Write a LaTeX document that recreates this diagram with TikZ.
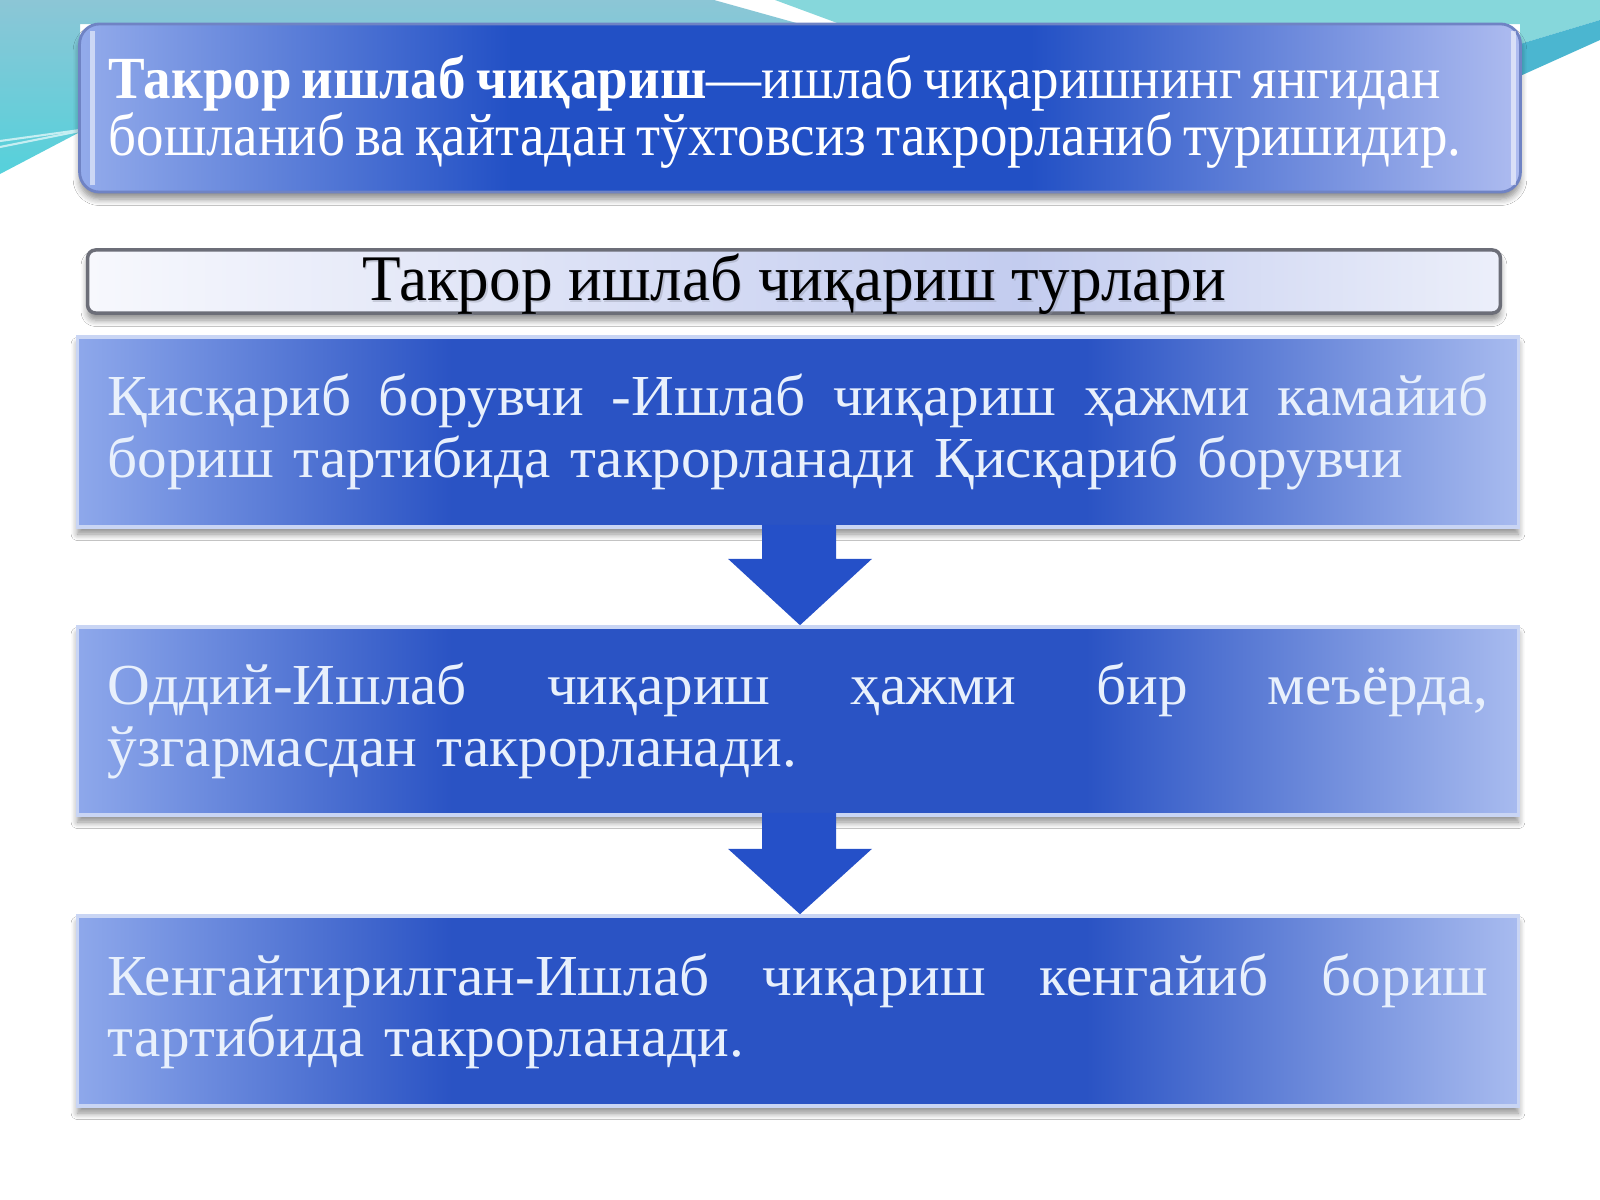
\documentclass[tikz,border=0pt]{standalone}
\usepackage{fontspec}
\setmainfont{Liberation Serif}
\newfontfamily\hdfont[FakeStretch=0.92]{Liberation Serif}
\newfontfamily\mdfont[FakeStretch=0.97]{Liberation Serif}
\newfontfamily\bxfont[FakeStretch=1.02]{Liberation Serif}
\usetikzlibrary{calc,shadows.blur}

\definecolor{bgA}{HTML}{8CC6D6}
\definecolor{bgB}{HTML}{55D1DB}
\definecolor{bgC}{HTML}{86D7DB}
\definecolor{bgD}{HTML}{4BB6D0}
\definecolor{bgLine}{HTML}{C6EEF2}
\definecolor{topL}{HTML}{93ABEB}
\definecolor{topD}{HTML}{2250C5}
\definecolor{topR}{HTML}{AEBCF0}
\definecolor{topEdge}{HTML}{6F83C4}
\definecolor{midL}{HTML}{F7F8FD}
\definecolor{midD}{HTML}{C3CCEF}
\definecolor{midR}{HTML}{ECEFFA}
\definecolor{midEdge}{HTML}{6C6E78}
\definecolor{bodyL}{HTML}{8EA8EB}
\definecolor{bodyD}{HTML}{2A53C4}
\definecolor{bodyR}{HTML}{A8BBEF}
\definecolor{bodyEdge}{HTML}{C9D5F4}
\definecolor{bodyText}{HTML}{E8F0FC}
\definecolor{arrowBlue}{HTML}{2550C8}
\definecolor{textShadow}{HTML}{8A8FA0}

\pgfdeclarehorizontalshading{topshade}{100bp}{color(0bp)=(topL); color(25bp)=(topL); color(40bp)=(topD); color(58bp)=(topD); color(75bp)=(topR); color(100bp)=(topR)}
\pgfdeclarehorizontalshading{midshade}{100bp}{color(0bp)=(midL); color(25bp)=(midL); color(58bp)=(midD); color(75bp)=(midR); color(100bp)=(midR)}
\pgfdeclarehorizontalshading{bodyshade}{100bp}{color(0bp)=(bodyL); color(25bp)=(bodyL); color(38bp)=(bodyD); color(60bp)=(bodyD); color(75bp)=(bodyR); color(100bp)=(bodyR)}

\newcommand{\fullline}[1]{\hbox to 13.8cm{#1}}
\newcommand{\tightline}[1]{\mbox{\spaceskip=0.17em\relax #1}}

\begin{document}
\begin{tikzpicture}[x=0.01cm,y=-0.01cm,
  softshadow/.style={blur shadow={shadow xshift=0pt, shadow yshift=-0.07cm, shadow blur steps=6, shadow opacity=45}},
  topbox/.style={rounded corners=0.2cm, shading=topshade, draw=topEdge, line width=0.8pt,
    minimum width=14.4cm, minimum height=1.68cm, inner sep=0pt, softshadow},
  toptext/.style={text width=13.9cm, inner sep=0pt, align=left, text=white,
    font=\hdfont\fontsize{17}{16}\selectfont},
  headbox/.style={rounded corners=0.08cm, shading=midshade, draw=midEdge, line width=1pt,
    minimum width=14.12cm, minimum height=0.63cm, inner sep=0pt, softshadow},
  headtext/.style={inner sep=0pt, font=\mdfont\fontsize{18.5}{20}\selectfont},
  typebox/.style={shading=bodyshade, draw=bodyEdge, line width=1pt,
    minimum width=14.4cm, minimum height=1.9cm, text width=13.8cm, inner xsep=0.3cm, inner ysep=0pt,
    align=left, text=bodyText, softshadow, font=\bxfont\fontsize{16.5}{17.4}\selectfont},
  blockarrow/.style={fill=arrowBlue, draw=none},
  gloss/.style={draw=white, opacity=0.55, line width=1.4pt}
]
\useasboundingbox (0,0) rectangle (1600,1200);
\fill[white] (0,0) rectangle (1600,1200);

% slide background
\shade[top color=bgA, bottom color=bgB] (0,0) -- (714,0) -- (800,24) -- (80,24) -- (80,132) -- (0,174) -- cycle;
\fill[bgC] (775,0) -- (1600,0) -- (1600,20) -- (1520,44) -- (1520,24) -- (840,24) -- cycle;
\fill[bgD] (1520,44) -- (1600,20) -- (1600,40) -- (1520,76) -- cycle;
\draw[bgLine, line width=0.6pt] (0,141) -- (80,130);
\draw[bgLine, line width=0.6pt] (0,147) -- (80,131);

% boxes
\node[topbox] (b1) at (800,108) {};
\node[toptext] (b1t) at ($(b1.center)+(4,4)$)
  {\tightline{\textbf{Такрор ишлаб чиқариш}—ишлаб чиқаришнинг янгидан}\\
   \tightline{бошланиб ва қайтадан тўхтовсиз такрорланиб туришидир.}};
\draw[gloss, rounded corners=0.15cm] ($(b1.south west)+(14,-8)$) -- ($(b1.north west)+(14,8)$);
\draw[gloss, rounded corners=0.15cm] ($(b1.south east)+(-8,-8)$) -- ($(b1.north east)+(-8,8)$);

\node[headbox] (b2) at (794,281.5) {};
\node[headtext, text=textShadow, opacity=0.35] at ($(b2.center)+(1.5,5)$) {Такрор ишлаб чиқариш турлари};
\node[headtext, text=black] (b2t) at ($(b2.center)+(0,3)$) {Такрор ишлаб чиқариш турлари};

\node[typebox] (b3) at (798,432)
  {\fullline{Қисқариб \hfill борувчи \hfill -Ишлаб \hfill чиқариш \hfill ҳажми \hfill камайиб}\\
   бориш тартибида такрорланади Қисқариб борувчи};

\node[typebox, minimum height=1.88cm] (b4) at (798,721)
  {\fullline{Оддий-Ишлаб \hfill чиқариш \hfill ҳажми \hfill бир \hfill меъёрда,}\\
   ўзгармасдан такрорланади.};

\node[typebox] (b5) at (798,1011)
  {\fullline{Кенгайтирилган-Ишлаб \hfill чиқариш \hfill кенгайиб \hfill бориш}\\
   тартибида такрорланади.};

% block arrows
\fill[blockarrow] ($(b3.south)+(-36,-4)$) -- ($(b3.south)+(38,-4)$) -- ($(b3.south)+(38,30)$)
  -- ($(b3.south)+(74,30)$) -- ($(b4.north)+(2,0)$) -- ($(b3.south)+(-70,30)$)
  -- ($(b3.south)+(-36,30)$) -- cycle;
\fill[blockarrow] ($(b4.south)+(-36,-4)$) -- ($(b4.south)+(38,-4)$) -- ($(b4.south)+(38,32)$)
  -- ($(b4.south)+(74,32)$) -- ($(b5.north)+(2,0)$) -- ($(b4.south)+(-70,32)$)
  -- ($(b4.south)+(-36,32)$) -- cycle;
\end{tikzpicture}
\end{document}
